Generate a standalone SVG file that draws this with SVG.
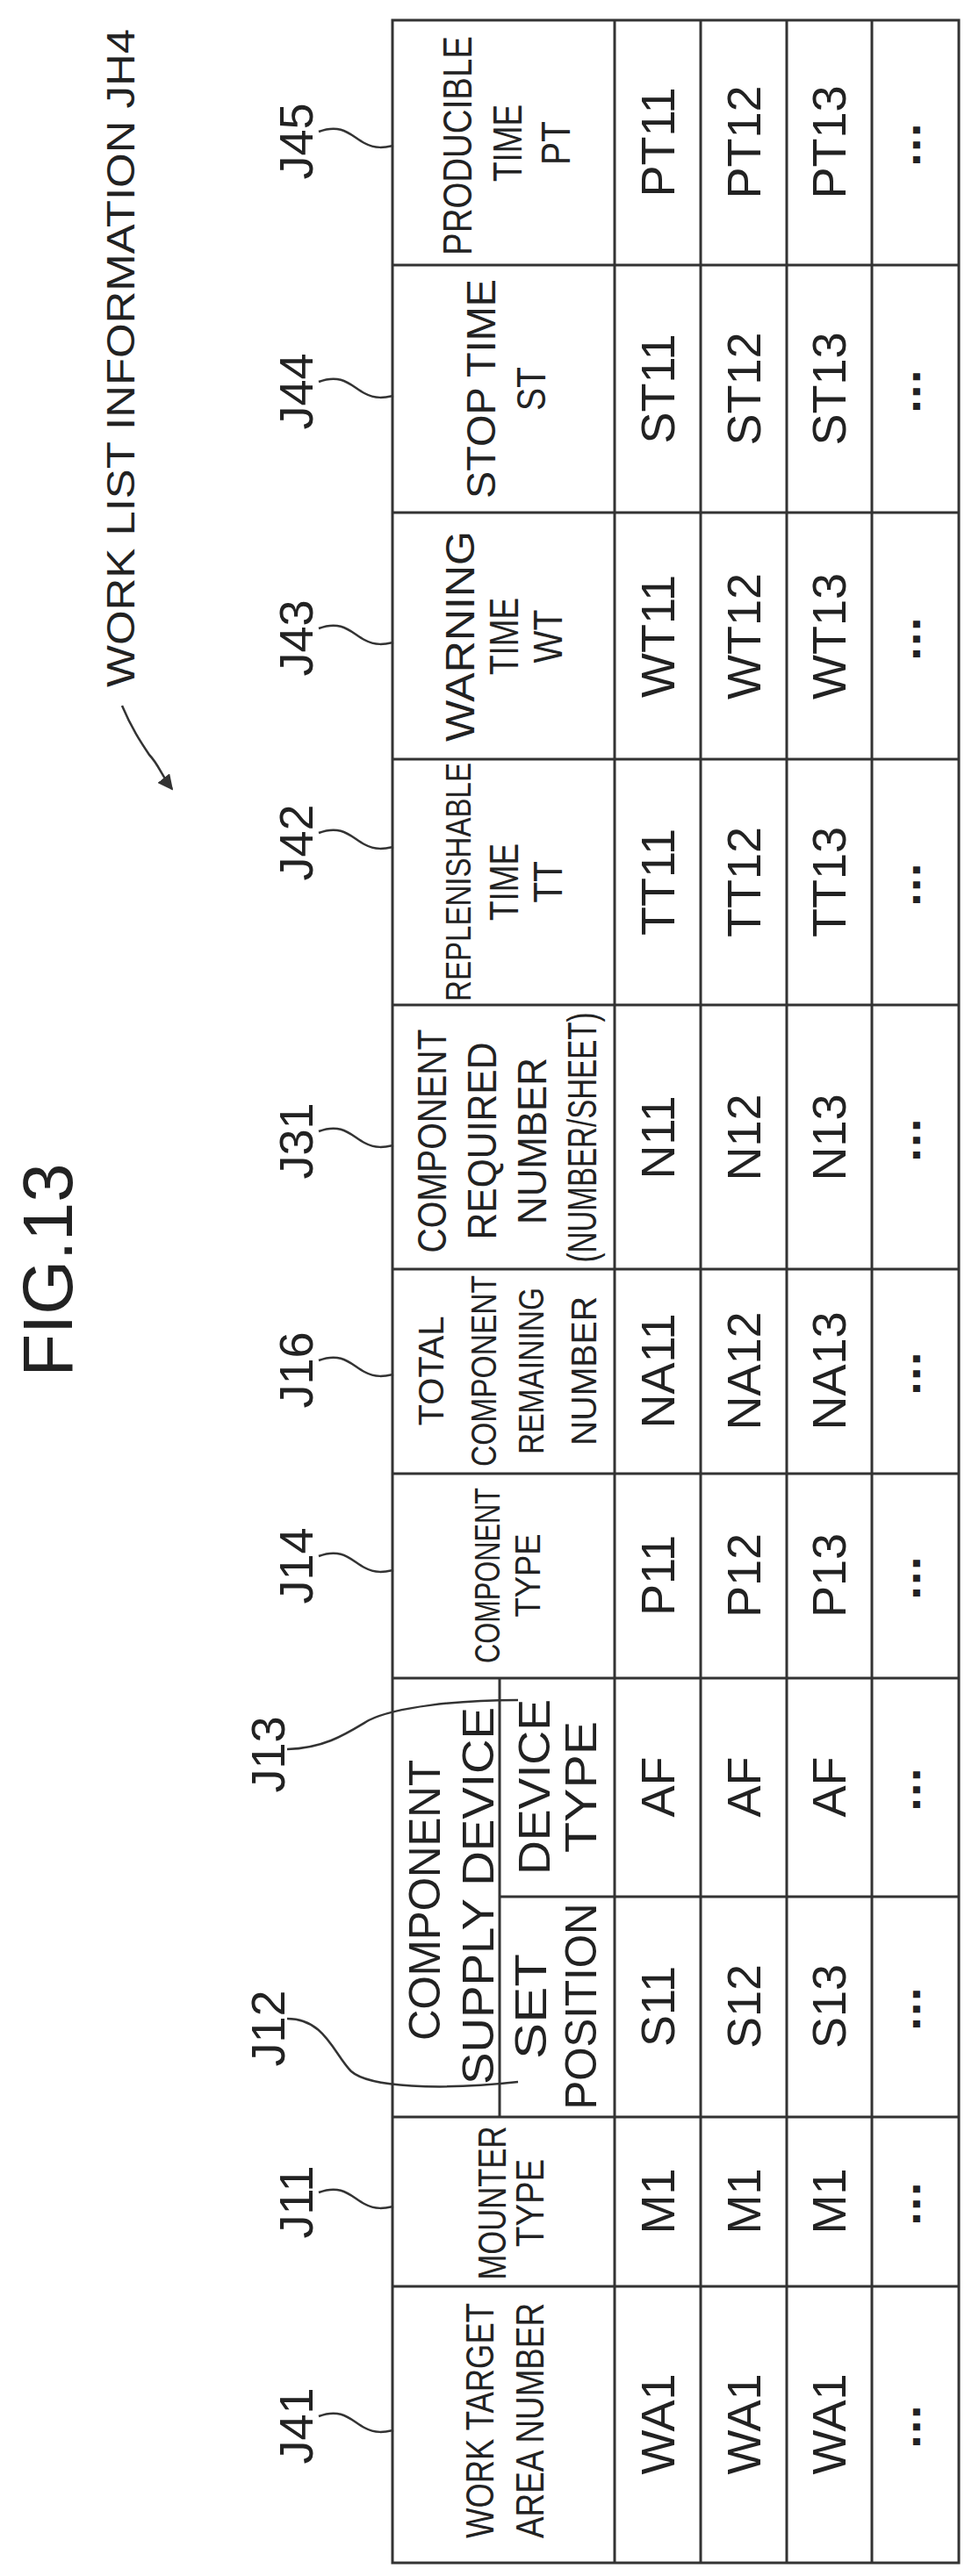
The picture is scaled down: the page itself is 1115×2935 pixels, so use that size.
<svg xmlns="http://www.w3.org/2000/svg" width="1115" height="2935" viewBox="0 0 1115 2935">
<style>
text{font-family:"Liberation Sans",Arial,sans-serif;fill:#222}
.h{font-size:46px;text-anchor:middle}
.d{font-size:54px;text-anchor:middle}
.l{font-size:54px;text-anchor:middle}
.dots{font-size:16px;text-anchor:middle;font-family:"DejaVu Sans",sans-serif;letter-spacing:6px}
.g{fill:none;stroke:#333;stroke-width:3}
.w{fill:none;stroke:#333;stroke-width:2.5}
</style>
<defs><marker id="ah" viewBox="0 0 10 10" refX="9" refY="5" markerWidth="7" markerHeight="7" orient="auto"><path d="M0,0L10,5L0,10z" fill="#333"/></marker></defs>
<rect width="1115" height="2935" fill="#fff"/>
<text transform="translate(153,408) rotate(-90)" style="font-size:45px;text-anchor:middle" textLength="750" lengthAdjust="spacingAndGlyphs">WORK LIST INFORMATION JH4</text>
<text transform="translate(82,1447) rotate(-90)" style="font-size:80px;text-anchor:middle" textLength="243" lengthAdjust="spacingAndGlyphs">FIG.13</text>
<g id="table" class="g">
<rect x="447" y="23" width="645" height="2897"/>
<line x1="700" y1="23" x2="700" y2="2920"/><line x1="798" y1="23" x2="798" y2="2920"/><line x1="896" y1="23" x2="896" y2="2920"/><line x1="993" y1="23" x2="993" y2="2920"/>
<line x1="447" y1="302" x2="1092" y2="302"/><line x1="447" y1="584" x2="1092" y2="584"/><line x1="447" y1="865" x2="1092" y2="865"/><line x1="447" y1="1145" x2="1092" y2="1145"/><line x1="447" y1="1446" x2="1092" y2="1446"/><line x1="447" y1="1679" x2="1092" y2="1679"/><line x1="447" y1="1912" x2="1092" y2="1912"/><line x1="569" y1="2161" x2="1092" y2="2161"/><line x1="569" y1="1912" x2="569" y2="2412"/><line x1="447" y1="2412" x2="1092" y2="2412"/><line x1="447" y1="2605" x2="1092" y2="2605"/>
</g>
<g id="J45">
<text class="l" transform="translate(356,161) rotate(-90)">J45</text>
<text class="h" transform="translate(537,166) rotate(-90)" textLength="250" lengthAdjust="spacingAndGlyphs">PRODUCIBLE</text>
<text class="h" transform="translate(594,163) rotate(-90) scale(0.8,1)">TIME</text>
<text class="h" transform="translate(649,163) rotate(-90) scale(0.85,1)">PT</text>
<text class="d" transform="translate(768,162) rotate(-90)">PT11</text><text class="d" transform="translate(866,162) rotate(-90)">PT12</text><text class="d" transform="translate(963,162) rotate(-90)">PT13</text><text class="dots" transform="translate(1048,162) rotate(-90)">▪▪▪</text>
</g>
<g id="J44">
<text class="l" transform="translate(356,446) rotate(-90)">J44</text>
<text class="h" transform="translate(564,443) rotate(-90)" textLength="250" lengthAdjust="spacingAndGlyphs">STOP TIME</text>
<text class="h" transform="translate(621,443) rotate(-90) scale(0.85,1)">ST</text>
<text class="d" transform="translate(768,443) rotate(-90)">ST11</text><text class="d" transform="translate(866,443) rotate(-90)">ST12</text><text class="d" transform="translate(963,443) rotate(-90)">ST13</text><text class="dots" transform="translate(1048,443) rotate(-90)">▪▪▪</text>
</g>
<g id="J43">
<text class="l" transform="translate(356,727) rotate(-90)">J43</text>
<text class="h" transform="translate(540,725) rotate(-90)" textLength="240" lengthAdjust="spacingAndGlyphs">WARNING</text>
<text class="h" transform="translate(590,725) rotate(-90) scale(0.8,1)">TIME</text>
<text class="h" transform="translate(640,725) rotate(-90) scale(0.85,1)">WT</text>
<text class="d" transform="translate(768,725) rotate(-90)">WT11</text><text class="d" transform="translate(866,725) rotate(-90)">WT12</text><text class="d" transform="translate(963,725) rotate(-90)">WT13</text><text class="dots" transform="translate(1048,725) rotate(-90)">▪▪▪</text>
</g>
<g id="J42">
<text class="l" transform="translate(356,960) rotate(-90)">J42</text>
<text class="h" transform="translate(536,1005) rotate(-90)" style="font-size:40px" textLength="272" lengthAdjust="spacingAndGlyphs">REPLENISHABLE</text>
<text class="h" transform="translate(590,1005) rotate(-90) scale(0.8,1)">TIME</text>
<text class="h" transform="translate(640,1005) rotate(-90) scale(0.85,1)">TT</text>
<text class="d" transform="translate(768,1005) rotate(-90)">TT11</text><text class="d" transform="translate(866,1005) rotate(-90)">TT12</text><text class="d" transform="translate(963,1005) rotate(-90)">TT13</text><text class="dots" transform="translate(1048,1005) rotate(-90)">▪▪▪</text>
</g>
<g id="J31">
<text class="l" transform="translate(356,1300) rotate(-90)">J31</text>
<text class="h" transform="translate(508,1300) rotate(-90)" textLength="255" lengthAdjust="spacingAndGlyphs">COMPONENT</text>
<text class="h" transform="translate(565,1300) rotate(-90)" textLength="225" lengthAdjust="spacingAndGlyphs">REQUIRED</text>
<text class="h" transform="translate(622,1300) rotate(-90)" textLength="190" lengthAdjust="spacingAndGlyphs">NUMBER</text>
<text class="h" transform="translate(679,1296) rotate(-90)" textLength="285" lengthAdjust="spacingAndGlyphs">(NUMBER/SHEET)</text>
<text class="d" transform="translate(768,1296) rotate(-90)">N11</text><text class="d" transform="translate(866,1296) rotate(-90)">N12</text><text class="d" transform="translate(963,1296) rotate(-90)">N13</text><text class="dots" transform="translate(1048,1296) rotate(-90)">▪▪▪</text>
</g>
<g id="J16">
<text class="l" transform="translate(356,1561) rotate(-90)">J16</text>
<text class="h" transform="translate(505,1562) rotate(-90)" style="font-size:40px" textLength="125" lengthAdjust="spacingAndGlyphs">TOTAL</text>
<text class="h" transform="translate(565,1562) rotate(-90)" style="font-size:40px" textLength="218" lengthAdjust="spacingAndGlyphs">COMPONENT</text>
<text class="h" transform="translate(619,1562) rotate(-90)" style="font-size:40px" textLength="190" lengthAdjust="spacingAndGlyphs">REMAINING</text>
<text class="h" transform="translate(679,1562) rotate(-90)" style="font-size:40px" textLength="170" lengthAdjust="spacingAndGlyphs">NUMBER</text>
<text class="d" transform="translate(768,1562) rotate(-90)">NA11</text><text class="d" transform="translate(866,1562) rotate(-90)">NA12</text><text class="d" transform="translate(963,1562) rotate(-90)">NA13</text><text class="dots" transform="translate(1048,1562) rotate(-90)">▪▪▪</text>
</g>
<g id="J14">
<text class="l" transform="translate(356,1784) rotate(-90)">J14</text>
<text class="h" transform="translate(569,1795) rotate(-90)" style="font-size:40px" textLength="200" lengthAdjust="spacingAndGlyphs">COMPONENT</text>
<text class="h" transform="translate(615,1795) rotate(-90)" style="font-size:40px" textLength="95" lengthAdjust="spacingAndGlyphs">TYPE</text>
<text class="d" transform="translate(768,1795) rotate(-90)">P11</text><text class="d" transform="translate(866,1795) rotate(-90)">P12</text><text class="d" transform="translate(963,1795) rotate(-90)">P13</text><text class="dots" transform="translate(1048,1795) rotate(-90)">▪▪▪</text>
</g>
<g id="CSD">
<text class="h" transform="translate(501,2165) rotate(-90)" style="font-size:50px" textLength="320" lengthAdjust="spacingAndGlyphs">COMPONENT</text>
<text class="h" transform="translate(562,2160) rotate(-90)" style="font-size:50px" textLength="430" lengthAdjust="spacingAndGlyphs">SUPPLY DEVICE</text>
</g>
<g id="J13">
<text class="l" transform="translate(324,1999) rotate(-90)">J13</text>
<text class="h" transform="translate(626,2036) rotate(-90)" style="font-size:50px" textLength="200" lengthAdjust="spacingAndGlyphs">DEVICE</text>
<text class="h" transform="translate(679,2036) rotate(-90)" style="font-size:50px" textLength="150" lengthAdjust="spacingAndGlyphs">TYPE</text>
<text class="d" transform="translate(768,2036) rotate(-90)">AF</text><text class="d" transform="translate(866,2036) rotate(-90)">AF</text><text class="d" transform="translate(963,2036) rotate(-90)">AF</text><text class="dots" transform="translate(1048,2036) rotate(-90)">▪▪▪</text>
</g>
<g id="J12">
<text class="l" transform="translate(324,2311) rotate(-90)">J12</text>
<text class="h" transform="translate(622,2286) rotate(-90)" style="font-size:50px" textLength="120" lengthAdjust="spacingAndGlyphs">SET</text>
<text class="h" transform="translate(679,2286) rotate(-90)" style="font-size:50px" textLength="235" lengthAdjust="spacingAndGlyphs">POSITION</text>
<text class="d" transform="translate(768,2286) rotate(-90)">S11</text><text class="d" transform="translate(866,2286) rotate(-90)">S12</text><text class="d" transform="translate(963,2286) rotate(-90)">S13</text><text class="dots" transform="translate(1048,2286) rotate(-90)">▪▪▪</text>
</g>
<g id="J11">
<text class="l" transform="translate(356,2509) rotate(-90)">J11</text>
<text class="h" transform="translate(576,2510) rotate(-90)" style="font-size:44px" textLength="175" lengthAdjust="spacingAndGlyphs">MOUNTER</text>
<text class="h" transform="translate(619,2510) rotate(-90)" style="font-size:44px" textLength="100" lengthAdjust="spacingAndGlyphs">TYPE</text>
<text class="d" transform="translate(768,2508) rotate(-90)">M1</text><text class="d" transform="translate(866,2508) rotate(-90)">M1</text><text class="d" transform="translate(963,2508) rotate(-90)">M1</text><text class="dots" transform="translate(1048,2508) rotate(-90)">▪▪▪</text>
</g>
<g id="J41">
<text class="l" transform="translate(356,2764) rotate(-90)">J41</text>
<text class="h" transform="translate(562,2758) rotate(-90)" style="font-size:44px" textLength="268" lengthAdjust="spacingAndGlyphs">WORK TARGET</text>
<text class="h" transform="translate(619,2758) rotate(-90)" style="font-size:44px" textLength="268" lengthAdjust="spacingAndGlyphs">AREA NUMBER</text>
<text class="d" transform="translate(768,2762) rotate(-90)">WA1</text><text class="d" transform="translate(866,2762) rotate(-90)">WA1</text><text class="d" transform="translate(963,2762) rotate(-90)">WA1</text><text class="dots" transform="translate(1048,2762) rotate(-90)">▪▪▪</text>
</g>
<g id="connectors" class="w">
<path d="M139,804 C150,830 160,845 170,860 C180,870 185,885 196,899" marker-end="url(#ah)"/>
<path d="M363,150 C390,140 400,155 415,163 C428,170 438,168 448,166"/>
<path d="M363,435 C390,425 400,440 415,448 C428,455 438,453 448,451"/>
<path d="M363,716 C390,706 400,721 415,729 C428,736 438,734 448,732"/>
<path d="M363,949 C390,939 400,954 415,962 C428,969 438,967 448,965"/>
<path d="M363,1289 C390,1279 400,1294 415,1302 C428,1309 438,1307 448,1305"/>
<path d="M363,1550 C390,1540 400,1555 415,1563 C428,1570 438,1568 448,1566"/>
<path d="M363,1773 C390,1763 400,1778 415,1786 C428,1793 438,1791 448,1789"/>
<path d="M363,2498 C390,2488 400,2503 415,2511 C428,2518 438,2516 448,2514"/>
<path d="M363,2753 C390,2743 400,2758 415,2766 C428,2773 438,2771 448,2769"/>
<path d="M327,2300 C370,2300 380,2340 400,2360 C420,2378 500,2382 590,2372"/>
<path d="M327,1993 C370,1992 395,1975 420,1960 C450,1945 520,1937 590,1937"/>
</g>
</svg>
